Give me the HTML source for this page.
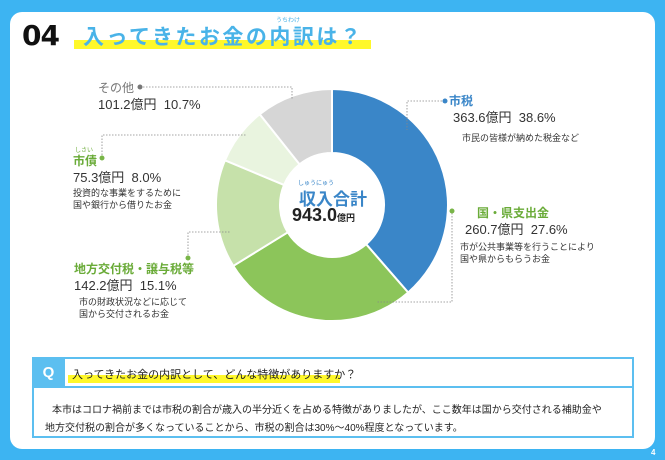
<!DOCTYPE html>
<html><head><meta charset="utf-8"><style>
*{margin:0;padding:0;box-sizing:border-box}
body{width:665px;height:460px;background:#3db4f2;position:relative;overflow:hidden;font-family:"Liberation Sans","Noto Sans CJK JP",sans-serif}
.panel{position:absolute;left:10px;top:12px;width:645px;height:437px;background:#fff;border-radius:12px}
.t{position:absolute;white-space:nowrap}
</style></head><body>
<div class="panel"></div>
<div class="t" style="left:22px;top:19px;font-size:28px;font-weight:900;color:#111;letter-spacing:-1px;font-family:'DejaVu Sans',sans-serif">04</div>
<div style="position:absolute;left:74px;top:40px;width:297px;height:9px;background:#fff82a"></div>
<div class="t" style="left:83px;top:21px;font-size:21px;font-weight:bold;color:#49b3e8;letter-spacing:2.5px">入ってきたお金の内訳は？</div>
<div class="t" style="left:276px;top:15px;font-size:6px;color:#49b3e8">うちわけ</div>

<svg style="position:absolute;left:0;top:0" width="665" height="460">
<g id="d"></g>
<g fill="none" stroke="#888" stroke-width="0.8" stroke-dasharray="1.5,1.5">
<polyline points="140,87 292,87 292,100"/>
<polyline points="445,101 407,101 407,130"/>
<polyline points="452,213 452,302 376,302"/>
<polyline points="102,158 102,135 246,135"/>
<polyline points="188,258 188,232 230,232"/>
</g>
<circle cx="140" cy="87" r="2.5" fill="#777"/>
<circle cx="445" cy="101" r="2.5" fill="#3a86c8"/>
<circle cx="452" cy="211" r="2.5" fill="#79b548"/>
<circle cx="102" cy="158" r="2.5" fill="#79b548"/>
<circle cx="188" cy="258" r="2.5" fill="#79b548"/>
</svg>
<script>
var cx=332,cy=205,R=116,r=52,vals=[38.6,27.6,15.1,8.0,10.7],cols=["#3a86c8","#8cc55a","#c6e1aa","#e9f4df","#d6d6d6"],a=0,s="";
vals.forEach(function(v,i){var a1=a*3.6*Math.PI/180,a2=(a+v)*3.6*Math.PI/180;var L=v>50?1:0;
function P(rr,t){return (cx+rr*Math.sin(t)).toFixed(2)+","+(cy-rr*Math.cos(t)).toFixed(2)}
s+='<path fill="'+cols[i]+'" stroke="#fff" stroke-width="2" d="M'+P(R,a1)+' A'+R+','+R+' 0 '+L+' 1 '+P(R,a2)+' L'+P(r,a2)+' A'+r+','+r+' 0 '+L+' 0 '+P(r,a1)+'Z"/>';a+=v;});
document.getElementById('d').innerHTML=s;
</script>

<div class="t" style="left:298px;top:178px;font-size:6px;color:#3a86c8">しゅうにゅう</div>
<div class="t" style="left:299px;top:185px;font-size:17px;color:#3a86c8;font-weight:bold">収入合計</div>
<div class="t" style="left:292px;top:205px;font-size:18px;color:#222;font-weight:bold">943.0<span style="font-size:9px">億円</span></div>

<div class="t" style="left:98px;top:79px;font-size:12px;color:#777">その他</div>
<div class="t" style="left:98px;top:94px;font-size:13px;color:#333">101.2億円&nbsp;&nbsp;10.7%</div>

<div class="t" style="left:449px;top:92px;font-size:12px;color:#3a86c8;font-weight:bold">市税</div>
<div class="t" style="left:453px;top:107px;font-size:13px;color:#333">363.6億円&nbsp;&nbsp;38.6%</div>
<div class="t" style="left:462px;top:131px;font-size:9px;color:#333">市民の皆様が納めた税金など</div>

<div class="t" style="left:477px;top:204px;font-size:12px;color:#6aab38;font-weight:bold">国・県支出金</div>
<div class="t" style="left:465px;top:219px;font-size:13px;color:#333">260.7億円&nbsp;&nbsp;27.6%</div>
<div class="t" style="left:460px;top:241px;font-size:9px;color:#333;line-height:12px">市が公共事業等を行うことにより<br>国や県からもらうお金</div>

<div class="t" style="left:75px;top:145px;font-size:6px;color:#6aab38">しさい</div>
<div class="t" style="left:73px;top:152px;font-size:12px;color:#6aab38;font-weight:bold">市債</div>
<div class="t" style="left:73px;top:167px;font-size:13px;color:#333">75.3億円&nbsp;&nbsp;8.0%</div>
<div class="t" style="left:73px;top:187px;font-size:9px;color:#333;line-height:12px">投資的な事業をするために<br>国や銀行から借りたお金</div>

<div class="t" style="left:74px;top:260px;font-size:12px;color:#6aab38;font-weight:bold">地方交付税・譲与税等</div>
<div class="t" style="left:74px;top:275px;font-size:13px;color:#333">142.2億円&nbsp;&nbsp;15.1%</div>
<div class="t" style="left:79px;top:296px;font-size:9px;color:#333;line-height:12px">市の財政状況などに応じて<br>国から交付されるお金</div>

<div style="position:absolute;left:32px;top:357px;width:602px;height:81px;border:2px solid #5cbff0"></div>
<div style="position:absolute;left:32px;top:357px;width:602px;height:31px;border-bottom:2px solid #5cbff0"></div>
<div style="position:absolute;left:32px;top:357px;width:33px;height:31px;background:#5cbff0;color:#fff;font-weight:bold;font-size:15px;text-align:center;line-height:31px">Q</div>
<div style="position:absolute;left:68px;top:375px;width:272px;height:8px;background:#fff82a"></div>
<div class="t" style="left:72px;top:366px;font-size:11px;color:#222">入ってきたお金の内訳として、どんな特徴がありますか？</div>
<div class="t" style="left:52px;top:401px;font-size:10px;color:#222">本市はコロナ禍前までは市税の割合が歳入の半分近くを占める特徴がありましたが、ここ数年は国から交付される補助金や</div>
<div class="t" style="left:45px;top:419px;font-size:10px;color:#222">地方交付税の割合が多くなっていることから、市税の割合は30%～40%程度となっています。</div>
<div class="t" style="left:651px;top:448px;font-size:8px;color:#fff;font-weight:bold">4</div>
</body></html>
